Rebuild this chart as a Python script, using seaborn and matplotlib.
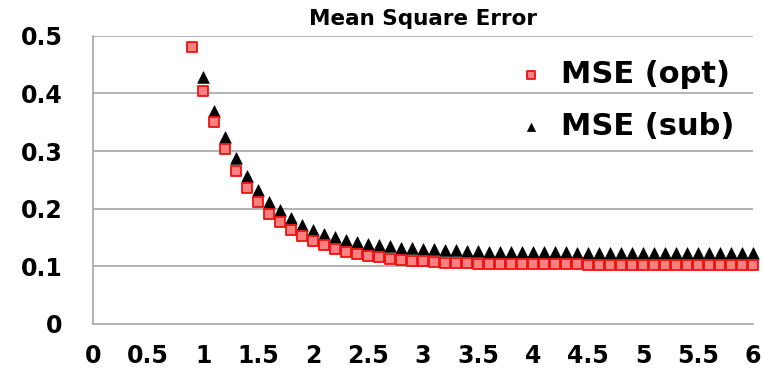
import numpy as np
import pandas as pd
import matplotlib
matplotlib.use('Agg')
import matplotlib.pyplot as plt
import seaborn as sns

# data
x_opt = [0.9, 1.0, 1.1, 1.2, 1.3, 1.4, 1.5, 1.6, 1.7, 1.8, 1.9,
         2.0, 2.1, 2.2, 2.3, 2.4, 2.5, 2.6, 2.7, 2.8, 2.9,
         3.0, 3.1, 3.2, 3.3, 3.4, 3.5, 3.6, 3.7, 3.8, 3.9,
         4.0, 4.1, 4.2, 4.3, 4.4, 4.5, 4.6, 4.7, 4.8, 4.9,
         5.0, 5.1, 5.2, 5.3, 5.4, 5.5, 5.6, 5.7, 5.8, 5.9, 6.0]
mse_opt = [0.480, 0.405, 0.350, 0.303, 0.266, 0.236, 0.212, 0.191, 0.176, 0.163, 0.152,
           0.143, 0.136, 0.130, 0.125, 0.121, 0.118, 0.115, 0.112, 0.110, 0.109,
           0.108, 0.107, 0.106, 0.106, 0.105, 0.104, 0.104, 0.104, 0.104, 0.103,
           0.103, 0.103, 0.103, 0.103, 0.103, 0.102, 0.102, 0.102, 0.102, 0.102,
           0.102, 0.102, 0.102, 0.102, 0.102, 0.102, 0.102, 0.102, 0.102, 0.102, 0.102]

x_sub = x_opt[1:]
mse_sub = [0.428, 0.369, 0.325, 0.288, 0.257, 0.232, 0.212, 0.197, 0.184, 0.172,
           0.163, 0.156, 0.150, 0.146, 0.142, 0.139, 0.136, 0.134, 0.132, 0.131,
           0.130, 0.129, 0.128, 0.127, 0.126, 0.126, 0.125, 0.125, 0.125, 0.124,
           0.124, 0.124, 0.124, 0.124, 0.123, 0.123, 0.123, 0.123, 0.123, 0.123,
           0.123, 0.123, 0.123, 0.123, 0.123, 0.123, 0.123, 0.123, 0.123, 0.123, 0.123]

x_ticks = [0, 0.5, 1, 1.5, 2, 2.5, 3, 3.5, 4, 4.5, 5, 5.5, 6]
x_labels = ['0', '0.5', '1', '1.5', '2', '2.5', '3', '3.5', '4', '4.5', '5', '5.5', '6']
y_ticks = [0, 0.1, 0.2, 0.3, 0.4, 0.5]
y_labels = ['0', '0.1', '0.2', '0.3', '0.4', '0.5']

df = pd.concat([
    pd.DataFrame({'x': x_opt, 'mse': mse_opt, 'series': 'MSE (opt)'}),
    pd.DataFrame({'x': x_sub, 'mse': mse_sub, 'series': 'MSE (sub)'}),
])

sns.set_style('white')
plt.rcParams['font.family'] = ['DejaVu Sans']
plt.rcParams['text.color'] = 'black'
plt.rcParams['xtick.labelcolor'] = 'black'
plt.rcParams['ytick.labelcolor'] = 'black'

fig = plt.figure(figsize=(7.63, 3.87), dpi=100)
ax = fig.add_axes([0.122, 0.164, 0.865, 0.743])

# gridlines first so markers sit on top
for yv in y_ticks[1:]:
    ax.axhline(yv, color='#a6a6a6', lw=1.2, zorder=0)

sns.scatterplot(data=df[df.series == 'MSE (opt)'], x='x', y='mse', ax=ax,
                marker='s', s=60, color='#ff8080', edgecolor='#ee1111',
                linewidth=1.3, label='MSE (opt)', zorder=3, clip_on=False)
sns.scatterplot(data=df[df.series == 'MSE (sub)'], x='x', y='mse', ax=ax,
                marker='^', s=70, color='black', edgecolor='black',
                linewidth=0.5, label='MSE (sub)', zorder=2, clip_on=False)

ax.set_xlim(0, 6)
ax.set_ylim(0, 0.5)
ax.set_xticks(x_ticks)
ax.set_xticklabels(x_labels, fontsize=17, fontweight='bold')
ax.set_yticks(y_ticks)
ax.set_yticklabels(y_labels, fontsize=17, fontweight='bold')
ax.set_xlabel('')
ax.set_ylabel('')
ax.set_title('Mean Square Error', fontsize=15.5, fontweight='bold', pad=8, color='black')

for side in ['top', 'right']:
    ax.spines[side].set_visible(False)
for side in ['left', 'bottom']:
    ax.spines[side].set_color('#a6a6a6')
    ax.spines[side].set_linewidth(1.2)

ax.tick_params(axis='x', direction='out', length=9, width=1.2, color='#a6a6a6', pad=6)
ax.tick_params(axis='y', direction='out', length=12, width=1.2, color='#a6a6a6', pad=10)

leg = ax.legend(loc='upper right', bbox_to_anchor=(1.0, 0.98), frameon=False,
                prop={'size': 22, 'weight': 'bold'}, markerscale=0.7,
                handlelength=0.8, handletextpad=0.6, labelspacing=0.75,
                borderaxespad=0.2)
for t in leg.get_texts():
    t.set_color('black')

fig.savefig('out.png', dpi=100)
